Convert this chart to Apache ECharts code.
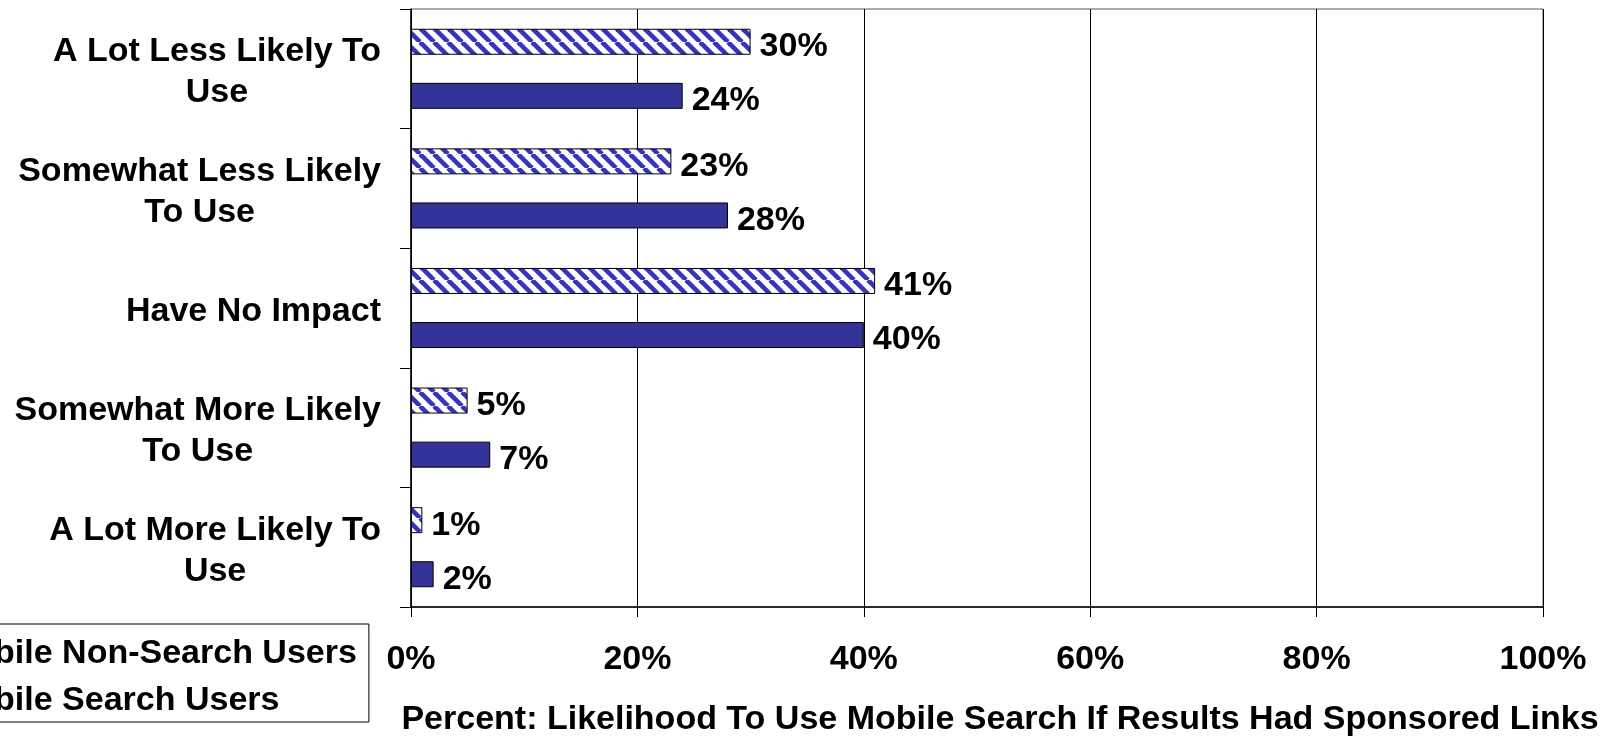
<!DOCTYPE html>
<html>
<head>
<meta charset="utf-8">
<title>Likelihood To Use Mobile Search If Results Had Sponsored Links</title>
<script src="https://cdn.jsdelivr.net/npm/echarts@6/dist/echarts.min.js"></script>
<style>
  html, body { margin: 0; padding: 0; background: #ffffff; }
  #chart { width: 1609px; height: 737px; }
</style>
</head>
<body>
<div id="chart"></div>
<script>
// Response categories, top to bottom
const categories = [
  'A Lot Less Likely To\nUse',
  'Somewhat Less Likely\nTo Use',
  'Have No Impact',
  'Somewhat More Likely\nTo Use',
  'A Lot More Likely To\nUse'
];
const seriesNames = ['Mobile Non-Search Users', 'Mobile Search Users'];
// Percent of respondents in each group
const nonSearchUsers = [30, 23, 41, 5, 1];
const searchUsers = [24, 28, 40, 7, 2];
const xTicks = [0, 20, 40, 60, 80, 100];
const axisTitle = 'Percent: Likelihood To Use Mobile Search If Results Had Sponsored Links';

const FONT = "'Liberation Sans', Arial, Helvetica, sans-serif";
const FS = 34;
const NAVY = '#333399';

// Diagonal "\" stripe tile used as the fill of the non-search bars
function stripeTile() {
  const p = 14;
  const c = document.createElement('canvas');
  c.width = p; c.height = p;
  const g = c.getContext('2d');
  g.fillStyle = '#ffffff';
  g.fillRect(0, 0, p, p);
  g.strokeStyle = '#3333cc';
  g.lineWidth = 4.6;
  for (let x0 = -p; x0 <= p; x0 += p) {
    g.beginPath();
    g.moveTo(x0, 0);
    g.lineTo(x0 + p, p);
    g.stroke();
  }
  return c;
}

const chart = echarts.init(document.getElementById('chart'), null, { renderer: 'canvas' });

const labelStyle = {
  show: true,
  position: 'right',
  distance: 9,
  offset: [0, 5],
  formatter: '{c}%',
  color: '#000',
  fontFamily: FONT,
  fontWeight: 'bold',
  fontSize: FS
};

chart.setOption({
  animation: false,
  backgroundColor: '#ffffff',
  textStyle: { fontFamily: FONT },
  grid: {
    left: 411, right: 66, top: 9, bottom: 130,
    containLabel: false,
    outerBoundsMode: 'none',
    show: true,
    borderColor: '#555555',
    borderWidth: 1
  },
  legend: {
    orient: 'vertical',
    left: -105,
    top: 624,
    data: seriesNames,
    itemWidth: 34,
    itemHeight: 20,
    itemGap: 13,
    padding: [13, 12, 4, 10],
    borderColor: '#000',
    borderWidth: 1,
    backgroundColor: '#fff',
    textStyle: {
      color: '#000',
      fontFamily: FONT,
      fontWeight: 'bold',
      fontSize: FS,
      lineHeight: 34
    }
  },
  xAxis: {
    type: 'value',
    min: xTicks[0],
    max: xTicks[xTicks.length - 1],
    interval: xTicks[1] - xTicks[0],
    axisLine: { show: true, lineStyle: { color: '#000', width: 1.5 } },
    axisTick: { show: true, inside: false, length: 10, lineStyle: { color: '#000', width: 1 } },
    splitLine: { show: true, lineStyle: { color: '#000', width: 1 } },
    axisLabel: {
      margin: 36,
      formatter: '{value}%',
      color: '#000',
      fontFamily: FONT,
      fontWeight: 'bold',
      fontSize: FS
    },
    name: axisTitle,
    nameLocation: 'middle',
    nameGap: 96,
    nameTextStyle: {
      color: '#000',
      fontFamily: FONT,
      fontWeight: 'bold',
      fontSize: FS,
      padding: [0, 0, 0, 46]
    }
  },
  yAxis: {
    type: 'category',
    data: categories,
    inverse: true,
    axisLine: { show: true, lineStyle: { color: '#000', width: 1.5 } },
    axisTick: { show: true, inside: false, length: 11, lineStyle: { color: '#000', width: 1 } },
    splitLine: { show: false },
    axisLabel: {
      margin: 30,
      color: '#000',
      fontFamily: FONT,
      fontWeight: 'bold',
      fontSize: FS,
      lineHeight: 41,
      padding: [7, 0, 0, 0],
      formatter: function (v) {
        return v.split('\n').map(function (l) { return '{c|' + l + '}'; }).join('\n');
      },
      rich: {
        c: {
          align: 'center',
          color: '#000',
          fontFamily: FONT,
          fontWeight: 'bold',
          fontSize: FS,
          lineHeight: 41
        }
      }
    }
  },
  series: [
    {
      name: seriesNames[0],
      type: 'bar',
      data: nonSearchUsers,
      barWidth: 26,
      barGap: '108%',
      itemStyle: {
        color: { image: stripeTile(), repeat: 'repeat' },
        borderColor: '#000',
        borderWidth: 1
      },
      label: labelStyle
    },
    {
      name: seriesNames[1],
      type: 'bar',
      data: searchUsers,
      barWidth: 26,
      barGap: '108%',
      itemStyle: {
        color: NAVY,
        borderColor: '#000',
        borderWidth: 1
      },
      label: labelStyle
    }
  ]
});
</script>
</body>
</html>
